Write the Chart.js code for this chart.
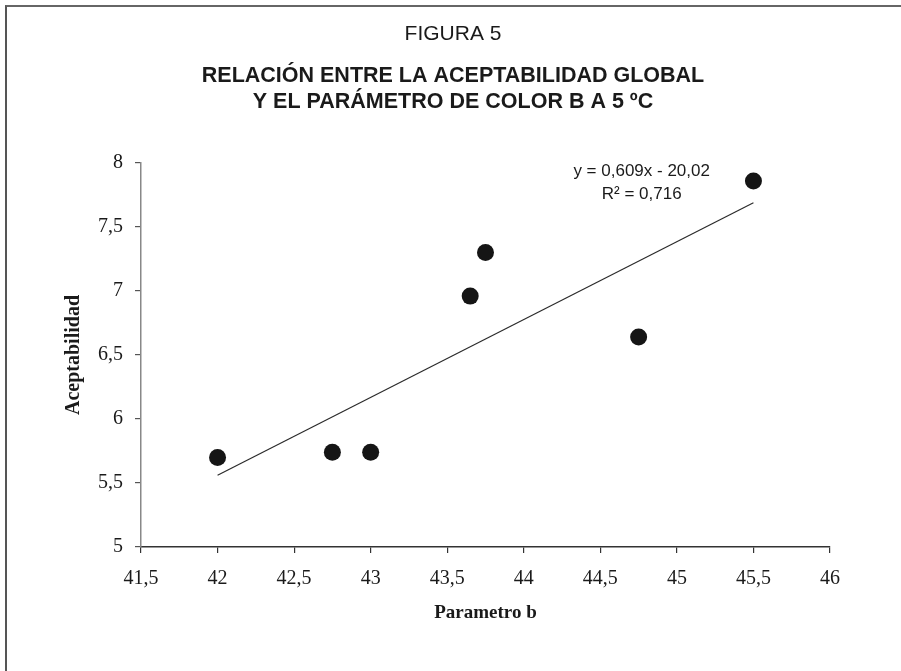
<!DOCTYPE html>
<html>
<head>
<meta charset="utf-8">
<script src="https://cdn.jsdelivr.net/npm/chart.js@4.4.0/dist/chart.umd.min.js"></script>
<style>
    html, body { margin: 0; padding: 0; background: #fff; overflow: hidden; }
    #wrap { position: relative; width: 901px; height: 671px; }
    #frame {
        position: absolute; left: 5px; top: 5px; width: 896px; height: 666px;
        border-top: 2px solid #666; border-left: 2px solid #555;
        pointer-events: none;
    }
</style>
</head>
<body>
<div id="wrap">
    <canvas id="myChart" width="901" height="671"></canvas>
    <div id="frame"></div>
</div>
<script>
// data
var parametroB = [42, 42.75, 43, 43.65, 43.75, 44.75, 45.5];
var aceptabilidad = [5.70, 5.74, 5.74, 6.96, 7.30, 6.64, 7.86];
// trend line end points (y = 0,609x - 20,02)
var trendX = [42, 45.5];
var trendY = [5.56, 7.69];
var xTickValues = [41.5, 42, 42.5, 43, 43.5, 44, 44.5, 45, 45.5, 46];
var yTickValues = [5, 5.5, 6, 6.5, 7, 7.5, 8];
var equationLines = ["y = 0,609x - 20,02", "R\u00B2 = 0,716"];

document.addEventListener("DOMContentLoaded", function () {
    drawChart();
});

function toPoints(xs, ys) {
    return xs.map(function (x, i) { return { x: x, y: ys[i] }; });
}

function commaLabel(value) {
    return String(value).replace('.', ',');
}

// writes the regression equation near the top right
var equationPlugin = {
    id: 'equation',
    afterDatasetsDraw: function (chart) {
        var ctx = chart.ctx;
        var xs = chart.scales.x, ys = chart.scales.y;
        ctx.save();
        ctx.font = '17px "Liberation Sans", Arial, sans-serif';
        ctx.fillStyle = '#1a1a1a';
        ctx.textAlign = 'center';
        ctx.textBaseline = 'middle';
        var cx = xs.getPixelForValue(44.77);
        ctx.fillText(equationLines[0], cx, ys.getPixelForValue(7.935));
        ctx.fillText(equationLines[1], cx, ys.getPixelForValue(7.755));
        ctx.restore();
    }
};

function drawChart() {
    var ctx = document.getElementById("myChart").getContext('2d');
    var myChart = new Chart(ctx, {
        type: 'scatter',
        data: {
            datasets: [{
                label: 'Aceptabilidad',
                data: toPoints(parametroB, aceptabilidad),
                backgroundColor: '#151515',
                borderWidth: 0,
                pointRadius: 8.5,
                pointHoverRadius: 8.5
            }, {
                type: 'line',
                label: 'Tendencia',
                data: toPoints(trendX, trendY),
                borderColor: '#2a2a2a',
                borderWidth: 1.2,
                pointRadius: 0,
                fill: false
            }]
        },
        plugins: [equationPlugin],
        options: {
            responsive: false,
            animation: false,
            layout: {
                padding: { left: 5, right: 0, top: 0, bottom: 0 }
            },
            scales: {
                x: {
                    type: 'linear',
                    min: 41.5,
                    max: 46,
                    afterBuildTicks: function (scale) {
                        scale.ticks = xTickValues.map(function (v) { return { value: v }; });
                    },
                    afterFit: function (scale) {
                        scale.height = 124;
                        scale.paddingRight = 71;
                    },
                    border: { color: '#333', width: 1.5 },
                    grid: { drawOnChartArea: false, tickLength: 6, color: '#333', lineWidth: 1.2 },
                    ticks: {
                        padding: 14,
                        color: '#1a1a1a',
                        font: { family: '"Liberation Serif", "Times New Roman", serif', size: 20 },
                        callback: commaLabel
                    },
                    title: {
                        display: true,
                        text: 'Parametro b',
                        color: '#1a1a1a',
                        font: { family: '"Liberation Serif", "Times New Roman", serif', size: 19, weight: 'bold' },
                        padding: { top: 0, bottom: 47 }
                    }
                },
                y: {
                    type: 'linear',
                    min: 5,
                    max: 8,
                    afterBuildTicks: function (scale) {
                        scale.ticks = yTickValues.map(function (v) { return { value: v }; });
                    },
                    afterFit: function (scale) {
                        scale.width = 136;
                    },
                    border: { color: '#888', width: 1.5 },
                    grid: { drawOnChartArea: false, tickLength: 6, color: '#555', lineWidth: 1.2 },
                    ticks: {
                        padding: 12,
                        color: '#1a1a1a',
                        font: { family: '"Liberation Serif", "Times New Roman", serif', size: 20 },
                        callback: commaLabel
                    },
                    title: {
                        display: true,
                        text: 'Aceptabilidad',
                        color: '#1a1a1a',
                        font: { family: '"Liberation Serif", "Times New Roman", serif', size: 20, weight: 'bold' },
                        padding: { top: 57, bottom: 0 }
                    }
                }
            },
            plugins: {
                legend: { display: false },
                tooltip: { enabled: false },
                title: {
                    display: true,
                    text: 'FIGURA 5',
                    color: '#1a1a1a',
                    font: { family: '"Liberation Sans", Arial, sans-serif', size: 21, weight: 'normal', lineHeight: 1.2 },
                    padding: { top: 22, bottom: 0 }
                },
                subtitle: {
                    display: true,
                    text: ['RELACIÓN ENTRE LA ACEPTABILIDAD GLOBAL', 'Y EL PARÁMETRO DE COLOR B A 5 ºC'],
                    color: '#1a1a1a',
                    font: { family: '"Liberation Sans", Arial, sans-serif', size: 21.5, weight: 'bold', lineHeight: '26px' },
                    padding: { top: 15.8, bottom: 48 }
                }
            }
        }
    });
}
</script>
</body>
</html>
